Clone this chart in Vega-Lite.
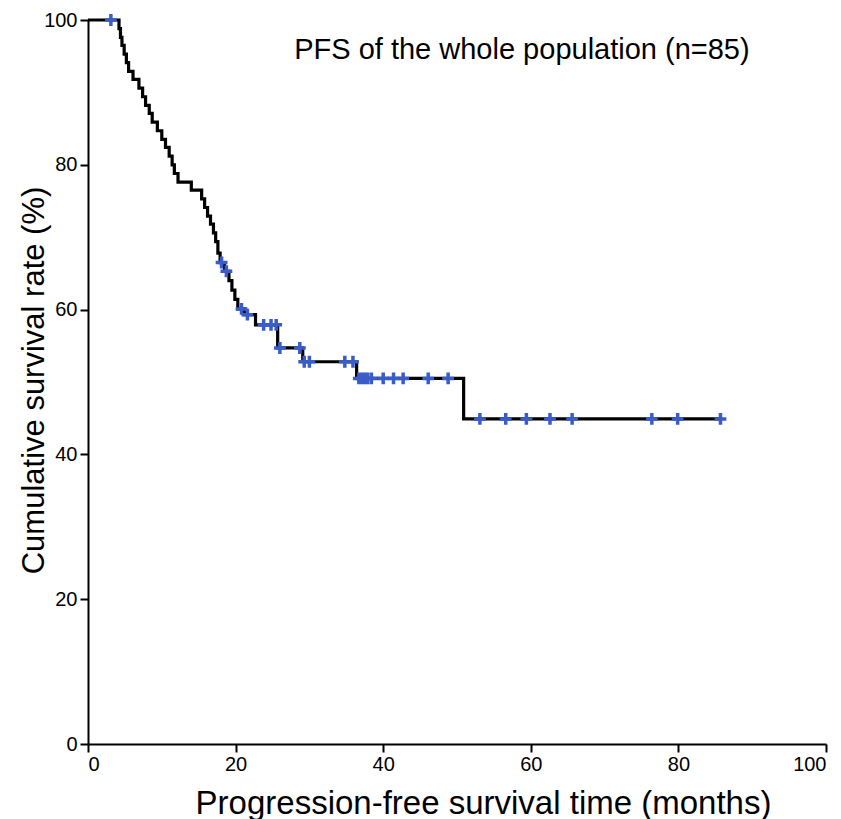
{
  "$schema": "https://vega.github.io/schema/vega-lite/v6.json",
  "width": 738,
  "height": 724,
  "autosize": {"type": "none"},
  "padding": {"left": 88, "top": 20, "right": 15, "bottom": 75},
  "background": "white",
  "config": {
    "view": {"stroke": null},
    "font": "Liberation Sans",
    "axis": {
      "grid": false,
      "domainColor": "black",
      "domainWidth": 2,
      "tickColor": "black",
      "tickWidth": 2,
      "tickSize": 8,
      "labelColor": "black",
      "labelFont": "Liberation Sans",
      "labelFontSize": 20,
      "titleColor": "black",
      "titleFont": "Liberation Sans",
      "titleFontWeight": "normal"
    }
  },
  "datasets": {
    "curve": [
      {"t": 0, "s": 100},
      {"t": 4.2, "s": 98.8},
      {"t": 4.4, "s": 97.6},
      {"t": 4.6, "s": 96.5},
      {"t": 4.9, "s": 95.3},
      {"t": 5.2, "s": 94.1},
      {"t": 5.5, "s": 92.9},
      {"t": 6.1, "s": 91.8},
      {"t": 6.9, "s": 90.6},
      {"t": 7.4, "s": 89.4},
      {"t": 7.8, "s": 88.2},
      {"t": 8.3, "s": 87.1},
      {"t": 8.7, "s": 85.9},
      {"t": 9.4, "s": 84.7},
      {"t": 10.0, "s": 83.5},
      {"t": 10.5, "s": 82.4},
      {"t": 11.0, "s": 81.2},
      {"t": 11.4, "s": 80.0},
      {"t": 11.7, "s": 78.8},
      {"t": 12.2, "s": 77.6},
      {"t": 14.0, "s": 76.5},
      {"t": 15.4, "s": 75.3},
      {"t": 15.8, "s": 74.1},
      {"t": 16.2, "s": 72.9},
      {"t": 16.6, "s": 71.8},
      {"t": 17.0, "s": 70.6},
      {"t": 17.3, "s": 69.4},
      {"t": 17.6, "s": 67.8},
      {"t": 17.9, "s": 66.5},
      {"t": 18.5, "s": 65.3},
      {"t": 19.1, "s": 64.0},
      {"t": 19.5, "s": 62.7},
      {"t": 19.9, "s": 61.4},
      {"t": 20.3, "s": 60.1},
      {"t": 21.2, "s": 59.3},
      {"t": 22.7, "s": 57.9},
      {"t": 25.7, "s": 54.7},
      {"t": 29.1, "s": 52.8},
      {"t": 36.4, "s": 50.5},
      {"t": 50.9, "s": 44.9},
      {"t": 85.7, "s": 44.9}
    ],
    "censor": [
      {"t": 3.1, "s": 100},
      {"t": 18.1, "s": 66.5},
      {"t": 18.75, "s": 65.3},
      {"t": 20.8, "s": 60.1},
      {"t": 21.6, "s": 59.3},
      {"t": 23.8, "s": 57.9},
      {"t": 24.8, "s": 57.9},
      {"t": 25.5, "s": 57.9},
      {"t": 26.0, "s": 54.7},
      {"t": 28.7, "s": 54.7},
      {"t": 29.3, "s": 52.8},
      {"t": 30.0, "s": 52.8},
      {"t": 34.8, "s": 52.8},
      {"t": 35.9, "s": 52.8},
      {"t": 36.7, "s": 50.5},
      {"t": 37.1, "s": 50.5},
      {"t": 37.5, "s": 50.5},
      {"t": 37.9, "s": 50.5},
      {"t": 38.4, "s": 50.5},
      {"t": 40.0, "s": 50.5},
      {"t": 41.4, "s": 50.5},
      {"t": 42.7, "s": 50.5},
      {"t": 46.1, "s": 50.5},
      {"t": 48.8, "s": 50.5},
      {"t": 53.1, "s": 44.9},
      {"t": 56.6, "s": 44.9},
      {"t": 59.4, "s": 44.9},
      {"t": 62.6, "s": 44.9},
      {"t": 65.6, "s": 44.9},
      {"t": 76.4, "s": 44.9},
      {"t": 79.9, "s": 44.9},
      {"t": 85.7, "s": 44.9}
    ],
    "label": [
      {"text": "PFS of  the whole population (n=85)"}
    ]
  },
  "layer": [
    {
      "data": {"name": "curve"},
      "mark": {"type": "line", "interpolate": "step-after", "color": "black", "strokeWidth": 3.2},
      "encoding": {
        "x": {
          "field": "t", "type": "quantitative",
          "scale": {"domain": [0, 100], "nice": false, "zero": true},
          "axis": {
            "values": [0, 20, 40, 60, 80, 100],
            "title": "Progression-free survival time (months)",
            "titleFontSize": 33,
            "labelPadding": 2,
            "titleBaseline": "alphabetic",
            "titleX": 395,
            "titleY": 69,
            "titleAnchor": "middle"
          }
        },
        "y": {
          "field": "s", "type": "quantitative",
          "scale": {"domain": [0, 100], "nice": false},
          "axis": {
            "values": [0, 20, 40, 60, 80, 100],
            "title": "Cumulative survival rate (%)",
            "titleFontSize": 31,
            "labelPadding": 3,
            "titleBaseline": "alphabetic",
            "titleX": -45,
            "titleY": 360,
            "titleAnchor": "middle"
          }
        }
      }
    },
    {
      "data": {"name": "censor"},
      "mark": {
        "type": "point",
        "shape": "M-1,0H1M0,-1V1",
        "filled": false,
        "stroke": "#3a5cc7",
        "strokeWidth": 3.5,
        "size": 140,
        "opacity": 1
      },
      "encoding": {
        "x": {"field": "t", "type": "quantitative"},
        "y": {"field": "s", "type": "quantitative"}
      }
    },
    {
      "data": {"name": "label"},
      "mark": {
        "type": "text",
        "font": "Liberation Sans",
        "fontSize": 29,
        "color": "black",
        "align": "center",
        "baseline": "middle"
      },
      "encoding": {
        "text": {"field": "text", "type": "nominal"},
        "x": {"datum": 58.8},
        "y": {"datum": 95.9}
      }
    }
  ]
}
